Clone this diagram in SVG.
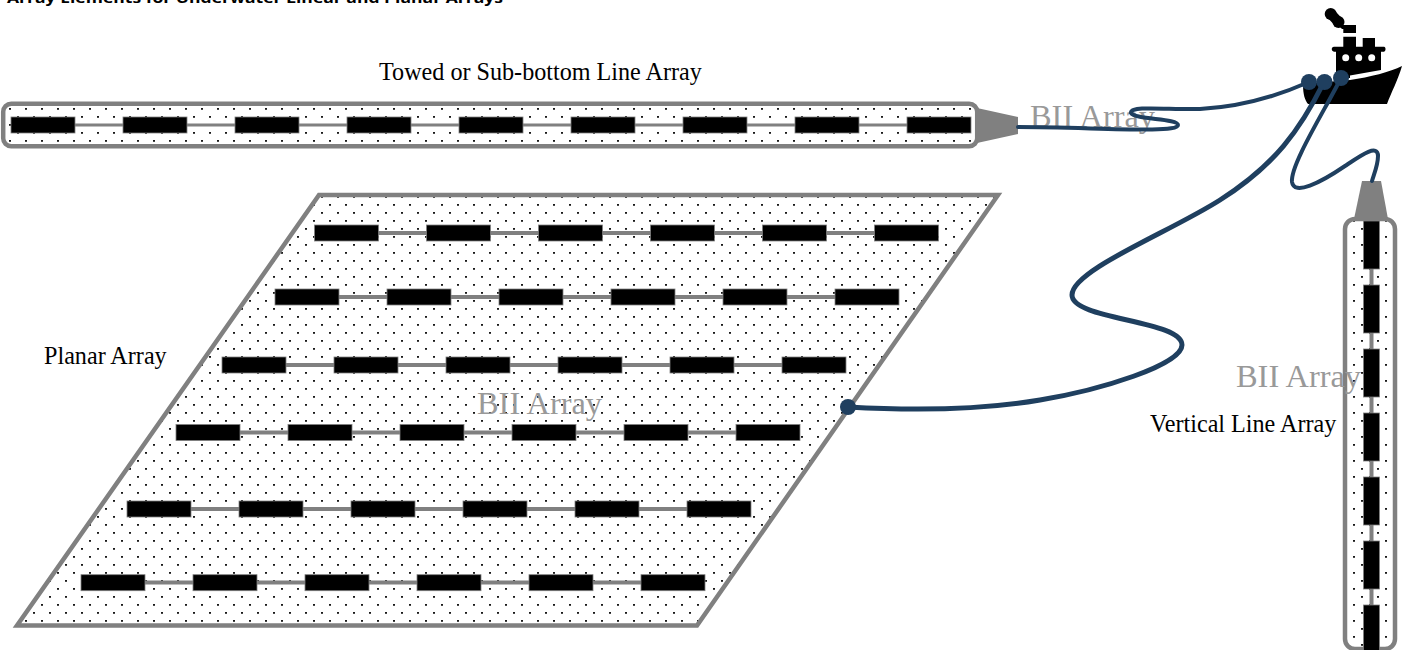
<svg xmlns="http://www.w3.org/2000/svg" width="1405" height="650" viewBox="0 0 1405 650">
<style>
.arr{fill:url(#dots);stroke:#808080;stroke-width:4.500}
.wire{fill:none;stroke:#808080;stroke-width:4}
.el{fill:#000;stroke:#808080;stroke-width:.8}
.cone{fill:#808080}
.cable{fill:none;stroke:#1f3f5f;stroke-linecap:round}
.joint{fill:#1f3f5f}
.lab{font-family:"Liberation Serif",serif;font-size:24.150px;fill:#000}
.bii{font-family:"Liberation Serif",serif;font-size:32.400px;fill:#999}
</style>
<defs>
<pattern id="dots" patternUnits="userSpaceOnUse" width="16" height="16">
<rect width="16" height="16" fill="#fff"/>
<rect x="9.100" y="12" width="1.800" height="1.800" fill="#000"/>
<rect x="1.100" y="4" width="1.800" height="1.800" fill="#000"/>
</pattern>
<rect id="e" class="el" width="64" height="16"/>
<rect id="v" class="el" width="16" height="48"/>
</defs>
<rect width="1405" height="650" fill="#fff"/>
<text x="7" y="3" font-family="'Open Sans','Noto Sans',sans-serif" font-weight="700" font-size="14" textLength="496" lengthAdjust="spacingAndGlyphs">Array Elements for Underwater Linear and Planar Arrays</text>
<g id="towed-array">
<rect class="arr" x="3.200" y="103.800" width="974" height="42.500" rx="8"/>
<path class="cone" d="M977,108L1018,117V134L977,143Z"/>
<line class="wire" x1="11" y1="125" x2="971" y2="125" style="stroke-width:3"/>
<use href="#e" x="11" y="117"/><use href="#e" x="123" y="117"/><use href="#e" x="235" y="117"/><use href="#e" x="347" y="117"/><use href="#e" x="459" y="117"/><use href="#e" x="571" y="117"/><use href="#e" x="683" y="117"/><use href="#e" x="795" y="117"/><use href="#e" x="907" y="117"/>
<text class="lab" x="379" y="80">Towed or Sub-bottom Line Array</text>
<text class="bii" x="1030" y="127">BII Array</text>
</g>
<g id="planar-array">
<path class="arr" d="M319,195H998L697,625.500H17Z"/>
<g id="planar-row-1"><line class="wire" x1="315" y1="233" x2="938" y2="233"/><use href="#e" x="314.500" y="225"/><use href="#e" x="426.500" y="225"/><use href="#e" x="538.500" y="225"/><use href="#e" x="650.500" y="225"/><use href="#e" x="762.500" y="225"/><use href="#e" x="874.500" y="225"/></g>
<g id="planar-row-2"><line class="wire" x1="275" y1="297" x2="899" y2="297"/><use href="#e" x="275" y="289"/><use href="#e" x="387" y="289"/><use href="#e" x="499" y="289"/><use href="#e" x="611" y="289"/><use href="#e" x="723" y="289"/><use href="#e" x="835" y="289"/></g>
<g id="planar-row-3"><line class="wire" x1="222" y1="365" x2="846" y2="365"/><use href="#e" x="222" y="357"/><use href="#e" x="334" y="357"/><use href="#e" x="446" y="357"/><use href="#e" x="558" y="357"/><use href="#e" x="670" y="357"/><use href="#e" x="782" y="357"/></g>
<g id="planar-row-4"><line class="wire" x1="176" y1="432.500" x2="800" y2="432.500"/><use href="#e" x="176" y="424.500"/><use href="#e" x="288" y="424.500"/><use href="#e" x="400" y="424.500"/><use href="#e" x="512" y="424.500"/><use href="#e" x="624" y="424.500"/><use href="#e" x="736" y="424.500"/></g>
<g id="planar-row-5"><line class="wire" x1="127" y1="509" x2="751" y2="509"/><use href="#e" x="127" y="501"/><use href="#e" x="239" y="501"/><use href="#e" x="351" y="501"/><use href="#e" x="463" y="501"/><use href="#e" x="575" y="501"/><use href="#e" x="687" y="501"/></g>
<g id="planar-row-6"><line class="wire" x1="81" y1="582.500" x2="705" y2="582.500"/><use href="#e" x="81" y="574.700"/><use href="#e" x="193" y="574.700"/><use href="#e" x="305" y="574.700"/><use href="#e" x="417" y="574.700"/><use href="#e" x="529" y="574.700"/><use href="#e" x="641" y="574.700"/></g>
<text class="lab" x="44" y="364">Planar Array</text>
<text class="bii" x="477" y="414">BII Array</text>
</g>
<g id="vertical-array">
<rect class="arr" x="1345" y="219" width="50" height="430" rx="10"/>
<path class="cone" d="M1362,181H1381L1388,219H1354Z"/>
<line class="wire" x1="1371.500" y1="221" x2="1371.500" y2="650"/>
<use href="#v" x="1363.500" y="221"/><use href="#v" x="1363.500" y="285"/><use href="#v" x="1363.500" y="349"/><use href="#v" x="1363.500" y="413"/><use href="#v" x="1363.500" y="477"/><use href="#v" x="1363.500" y="541"/><use href="#v" x="1363.500" y="605"/>
<text class="lab" x="1150" y="432">Vertical Line Array</text>
<text class="bii" x="1236" y="387">BII Array</text>
</g>
<g id="ship">
<path d="M1303,84L1350,80C1370,77 1390,72 1402,66C1398,80 1391,93 1387,104H1308C1305,100 1303,95 1303,84Z"/>
<path d="M1336,78V51.700H1334C1331,51 1331,47 1334,46.700H1343.300V36.700H1356V46.700H1362.700V38H1375V46.700H1384C1386,47 1386,51 1384,51.700H1381V70L1350,75.500V78Z"/>
<path d="M1343.300,33V25H1356V33Z"/>
<path d="M1331,14L1338,21.500" stroke="#000" stroke-width="10" stroke-linecap="round"/>
<circle cx="1330.700" cy="14" r="6"/><circle cx="1338.500" cy="22" r="6"/><path d="M1338,25L1346,25V29H1342Z"/>
<circle cx="1345.700" cy="57.700" r="3.500" fill="#fff"/><circle cx="1358.700" cy="57.700" r="3.500" fill="#fff"/><circle cx="1371.700" cy="57.700" r="3.500" fill="#fff"/>
</g>
<g id="connectors">
<path class="cable" stroke-width="4" d="M1018,127C1090,127 1178,134 1178,125C1178,118 1135,120 1131,113C1130,105 1170,110 1200,109C1240,107 1275,97 1309,82"/>
<path class="cable" stroke-width="5" d="M1324,82C1300,130 1275,165 1220,200C1170,232 1072,270 1072,295C1072,320 1182,320 1182,345C1182,365 1100,390 1040,400C970,412 900,410 848,407"/>
<path class="cable" stroke-width="4" d="M1341,78C1325,110 1290,165 1292,182C1294,196 1320,183 1345,166C1360,156 1378,143 1378,156C1378,165 1374,174 1372,181"/>
<circle class="joint" cx="1309" cy="82" r="8"/><circle class="joint" cx="1324.500" cy="82" r="8"/><circle class="joint" cx="1341" cy="78" r="8"/><circle class="joint" cx="848" cy="407" r="8"/>
</g>
</svg>
